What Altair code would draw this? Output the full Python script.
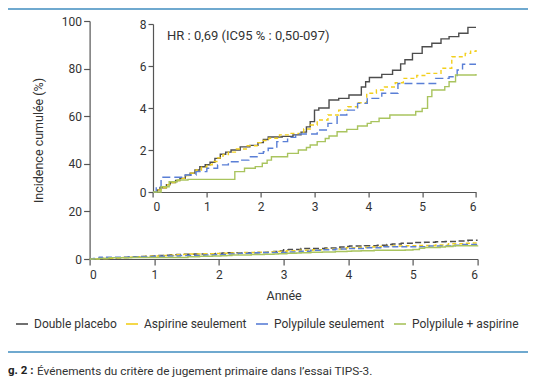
import altair as alt
import pandas as pd

# ---- data ----
series = ["Double placebo", "Aspirine seulement", "Polypilule seulement", "Polypilule + aspirine"]
colors = ["#4d4d4d", "#f2cf1d", "#5a7fd6", "#a9c45e"]

t_placebo = [0, 0.08, 0.13, 0.25, 0.32, 0.42, 0.5, 0.6, 0.69, 0.78, 0.87, 0.97, 1.06, 1.15, 1.25, 1.35,
             1.45, 1.62, 1.8, 1.95, 2.05, 2.14, 2.4, 2.6, 2.75, 2.85, 2.92, 3.0, 3.08, 3.27, 3.45, 3.64,
             3.87, 3.95, 4.02, 4.25, 4.45, 4.6, 4.68, 4.82, 5.0, 5.18, 5.35, 5.5, 5.68, 5.85, 6.0]
v_placebo = [0, 0.1, 0.2, 0.35, 0.45, 0.55, 0.65, 0.8, 0.9, 1.05, 1.2, 1.3, 1.42, 1.6, 1.8, 1.9,
             2.0, 2.15, 2.22, 2.35, 2.5, 2.62, 2.65, 2.72, 2.85, 3.1, 3.35, 3.9, 4.0, 4.38, 4.46, 4.62,
             5.0, 5.25, 5.45, 5.6, 5.8, 6.1, 6.3, 6.6, 6.92, 7.08, 7.29, 7.4, 7.56, 7.84, 7.84]

t_aspirine = [0, 0.1, 0.15, 0.27, 0.35, 0.45, 0.52, 0.62, 0.7, 0.8, 0.9, 1.0, 1.1, 1.2, 1.3, 1.4,
              1.55, 1.75, 1.95, 2.05, 2.15, 2.35, 2.55, 2.8, 2.92, 3.05, 3.25, 3.45, 3.62, 3.8, 3.97,
              4.15, 4.3, 4.5, 4.65, 4.9, 5.09, 5.35, 5.55, 5.8, 5.9, 6.0]
v_aspirine = [0, 0.1, 0.2, 0.35, 0.45, 0.55, 0.65, 0.78, 0.9, 1.05, 1.18, 1.3, 1.45, 1.62, 1.78, 1.9,
              2.05, 2.2, 2.35, 2.45, 2.56, 2.72, 2.79, 3.0, 3.19, 3.43, 3.67, 3.9, 4.06, 4.25, 4.7,
              4.86, 5.0, 5.2, 5.41, 5.55, 5.65, 5.89, 6.44, 6.6, 6.7, 6.76]

t_poly = [0, 0.06, 0.15, 0.6, 0.8, 1.0, 1.2, 1.4, 1.58, 1.78, 1.95, 2.05, 2.14, 2.3, 2.5, 2.65,
          3.05, 3.25, 3.42, 3.6, 3.8, 3.98, 4.25, 4.55, 5.25, 5.5, 5.65, 5.75, 6.0]
v_poly = [0, 0.25, 0.7, 0.81, 0.97, 1.13, 1.29, 1.44, 1.52, 1.68, 1.84, 1.92, 2.08, 2.4, 2.6, 2.76,
          2.95, 3.27, 3.67, 3.9, 4.22, 4.46, 4.7, 5.17, 5.41, 5.49, 5.81, 6.08, 6.08]

t_poly_asp = [0, 0.15, 0.3, 0.45, 0.65, 1.52, 1.7, 1.9, 2.03, 2.12, 2.2, 2.5, 2.7, 2.85, 2.92, 3.05,
              3.2, 3.27, 3.42, 3.6, 3.8, 3.98, 4.05, 4.2, 4.4, 4.88, 5.0, 5.1, 5.18, 5.42, 5.5, 5.62, 6.0]
v_poly_asp = [0, 0.25, 0.49, 0.57, 0.6, 0.97, 1.13, 1.21, 1.37, 1.52, 1.68, 1.84, 2.0, 2.12, 2.24, 2.4,
              2.55, 2.67, 2.87, 2.98, 3.14, 3.27, 3.35, 3.51, 3.67, 3.83, 3.98, 4.54, 4.86, 5.02, 5.25, 5.57, 5.62]

x_ticks = [0, 1, 2, 3, 4, 5, 6]
y_ticks_main = [0, 20, 40, 60, 80, 100]
y_ticks_inset = [0, 2, 4, 6, 8]

hr_label = "HR : 0,69 (IC95 % : 0,50-097)"
caption_bold = "g. 2 :"
caption_text = "Événements du critère de jugement primaire dans l’essai TIPS-3."

rows = []
for name, ts, vs in zip(series, [t_placebo, t_aspirine, t_poly, t_poly_asp],
                        [v_placebo, v_aspirine, v_poly, v_poly_asp]):
    for t, v in zip(ts, vs):
        rows.append({"serie": name, "t": t, "v": v})
df = pd.DataFrame(rows)

FONT = "Roboto"
AX = dict(domainColor="#555555", tickColor="#555555", labelColor="#333333", labelFont=FONT,
          labelFontSize=12, grid=False, titleFont=FONT, titleFontSize=12.5, titleFontWeight="normal",
          titleColor="#333333", domainWidth=1.2, tickWidth=1.2)

color = alt.Color("serie:N", scale=alt.Scale(domain=series, range=colors),
                  legend=alt.Legend(orient="none", legendX=-74.6, legendY=296, direction="horizontal",
                                    title=None, symbolType="stroke", symbolSize=144,
                                    symbolStrokeWidth=1.6, labelFont=FONT, labelFontSize=12,
                                    labelColor="#333333", columnPadding=5, labelOffset=5))

main = alt.Chart(df).mark_line(interpolate="step-after", strokeWidth=1.5).encode(
    x=alt.X("t:Q", scale=alt.Scale(domain=[0, 6], nice=False),
            axis=alt.Axis(values=x_ticks, title="Année", tickSize=6, labelPadding=4,
                          titlePadding=9, format="d", **AX)),
    y=alt.Y("v:Q", scale=alt.Scale(domain=[0, 100], nice=False),
            axis=alt.Axis(values=y_ticks_main, title="Incidence cumulée (%)", tickSize=6,
                          labelPadding=2, titlePadding=16, **AX)),
    color=color,
    strokeDash=alt.StrokeDash("serie:N", scale=alt.Scale(domain=series,
                              range=[[6, 3], [4, 3], [6, 3], [1, 0]]), legend=None),
)

inset = alt.Chart(df).mark_line(interpolate="step-after", strokeWidth=1.4).encode(
    x=alt.X("t:Q", scale=alt.Scale(domain=[0, 6], range=[63.4, 386.4], nice=False),
            axis=alt.Axis(values=x_ticks, title=None, orient="bottom", offset=-67, tickSize=5,
                          labelPadding=4, format="d", **AX)),
    y=alt.Y("v:Q", scale=alt.Scale(domain=[0, 8], range=[171, 3], nice=False),
            axis=alt.Axis(values=y_ticks_inset, title=None, orient="left", offset=-63.4,
                          tickSize=5, labelPadding=2, **AX)),
    color=color,
    strokeDash=alt.StrokeDash("serie:N", scale=alt.Scale(domain=series,
                              range=[[1, 0], [4, 3], [8, 4], [1, 0]]), legend=None),
)

hr = alt.Chart(pd.DataFrame({"txt": [hr_label]})).mark_text(
    align="left", baseline="middle", font=FONT, fontSize=13, color="#333333"
).encode(x=alt.value(77.4), y=alt.value(15), text="txt:N")

rule_top = alt.Chart(pd.DataFrame({"k": [0]})).mark_rule(color="#6fa9cf", strokeWidth=2).encode(
    x=alt.value(-81.6), x2=alt.value(438.4), y=alt.value(-12))
rule_bottom = alt.Chart(pd.DataFrame({"k": [0]})).mark_rule(color="#6fa9cf", strokeWidth=2).encode(
    x=alt.value(-81.6), x2=alt.value(438.4), y=alt.value(331))

cap1 = alt.Chart(pd.DataFrame({"txt": [caption_bold]})).mark_text(
    align="left", baseline="middle", font=FONT, fontSize=11.5, fontWeight="bold", color="#222222"
).encode(x=alt.value(-81.6), y=alt.value(350), text="txt:N")
cap2 = alt.Chart(pd.DataFrame({"txt": [caption_text]})).mark_text(
    align="left", baseline="middle", font=FONT, fontSize=11.8, color="#333333"
).encode(x=alt.value(-52.6), y=alt.value(350), text="txt:N")

chart = alt.layer(main, inset, hr, rule_top, rule_bottom, cap1, cap2).resolve_scale(
    x="independent", y="independent", strokeDash="independent"
).properties(
    width=388, height=238,
    autosize=alt.AutoSizeParams(type="none"),
    padding={"left": 81.6, "top": 13, "right": 50.4, "bottom": 119},
).configure_view(stroke=None)

chart.save("out.html", embed_options={"renderer": "svg", "actions": False})
